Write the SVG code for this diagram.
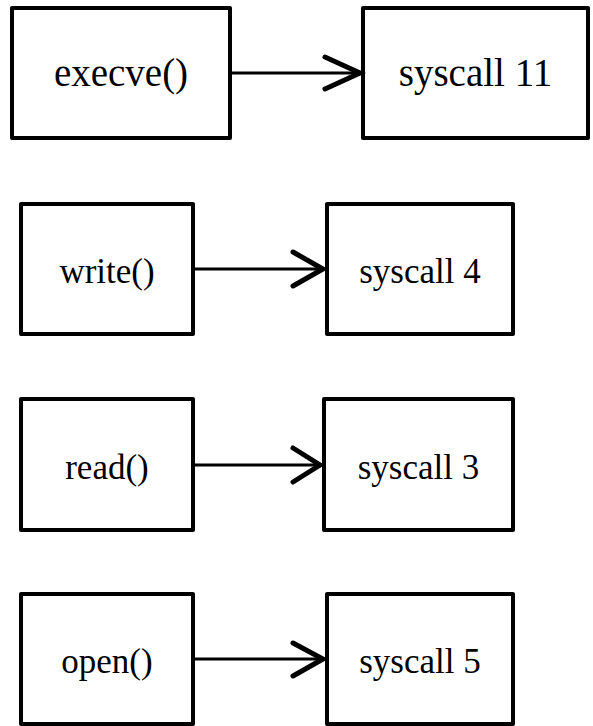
<svg xmlns="http://www.w3.org/2000/svg" width="593" height="726" viewBox="0 0 593 726">
<style>
.box{fill:#fff;stroke:#000;stroke-width:4;stroke-linejoin:round}
.t{font-family:"Liberation Serif","Times New Roman",serif;text-anchor:middle;fill:#000}
.s{font-size:35px}
.l{font-size:39px}
.ln{stroke:#000;stroke-width:3;fill:none}
.hd{stroke:#000;stroke-width:5;fill:none;stroke-linejoin:miter;stroke-linecap:round}
</style>
<rect width="593" height="726" fill="#fff"/>
<g id="execve"><rect class="box" x="12" y="8" width="218" height="130"/><text class="t l" x="121" y="86">execve()</text></g>
<g id="syscall11"><rect class="box" x="363" y="8" width="225" height="130"/><text class="t l" x="475.5" y="86">syscall 11</text></g>
<g id="write"><rect class="box" x="21" y="204" width="172" height="130"/><text class="t s" x="107" y="283">write()</text></g>
<g id="syscall4"><rect class="box" x="327" y="204" width="186" height="130"/><text class="t s" x="420" y="283">syscall 4</text></g>
<g id="read"><rect class="box" x="21" y="399" width="172" height="131"/><text class="t s" x="107" y="479">read()</text></g>
<g id="syscall3"><rect class="box" x="324" y="399" width="189" height="131"/><text class="t s" x="418.5" y="479">syscall 3</text></g>
<g id="open"><rect class="box" x="21" y="594" width="172" height="130"/><text class="t s" x="107" y="673">open()</text></g>
<g id="syscall5"><rect class="box" x="327" y="594" width="186" height="130"/><text class="t s" x="420" y="673">syscall 5</text></g>
<g id="connectors">
<line class="ln" x1="232" y1="73" x2="360" y2="73"/><polyline class="hd" points="325,57 360,73 325,89"/>
<line class="ln" x1="195" y1="269" x2="323" y2="269"/><polyline class="hd" points="293,252 323,269 293,286"/>
<line class="ln" x1="195" y1="465" x2="320" y2="465"/><polyline class="hd" points="293,448 320,465 293,482"/>
<line class="ln" x1="195" y1="659" x2="323" y2="659"/><polyline class="hd" points="293,643 323,659 293,676"/>
</g>
</svg>
